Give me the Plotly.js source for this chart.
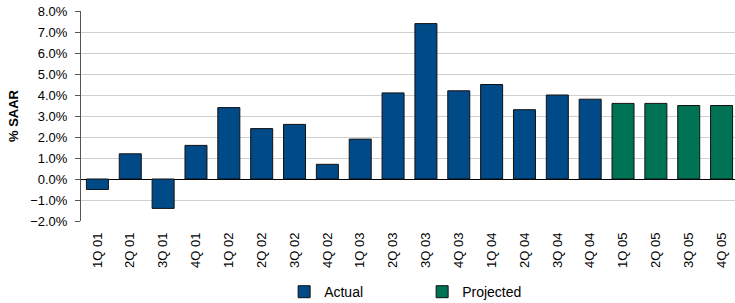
<!DOCTYPE html>
<html>
<head>
<meta charset="utf-8">
<script src="https://cdn.plot.ly/plotly-3.0.1.min.js"></script>
<style>
html,body{margin:0;padding:0;overflow:hidden;background:#fff;}
#chart{width:738px;height:303px;}
</style>
</head>
<body>
<div id="chart"></div>
<script>
const quarters = ["1Q 01","2Q 01","3Q 01","4Q 01","1Q 02","2Q 02","3Q 02","4Q 02","1Q 03","2Q 03","3Q 03","4Q 03","1Q 04","2Q 04","3Q 04","4Q 04","1Q 05","2Q 05","3Q 05","4Q 05"];
const actualQuarters = quarters.slice(0,16);
const actualValues = [-0.5,1.2,-1.4,1.6,3.4,2.4,2.6,0.7,1.9,4.1,7.4,4.2,4.5,3.3,4.0,3.8];
const projectedQuarters = quarters.slice(16);
const projectedValues = [3.6,3.6,3.5,3.5];
const boundaryTicks = quarters.slice(0,-1).map((q,i)=>i+0.5);

const fontFam = '"Liberation Sans", Arial, sans-serif';

const traces = [
  {type:'bar', name:'Actual', x:actualQuarters, y:actualValues,
   marker:{color:'#004A87', line:{color:'#111', width:1}}, hoverinfo:'x+y'},
  {type:'bar', name:'Projected', x:projectedQuarters, y:projectedValues,
   marker:{color:'#007354', line:{color:'#111', width:1}}, hoverinfo:'x+y'}
];

const layout = {
  width:738, height:303,
  margin:{l:81, r:0, t:11, b:82, pad:0},
  paper_bgcolor:'#fff', plot_bgcolor:'#fff',
  font:{family:fontFam, color:'#000', size:13},
  barmode:'overlay', bargap:0.33,
  showlegend:true,
  legend:{orientation:'h', xref:'container', yref:'container', x:0.385, xanchor:'left', y:0.036, yanchor:'middle',
          font:{size:14, family:fontFam}, entrywidth:93, entrywidthmode:'pixels', itemwidth:30, tracegroupgap:0},
  xaxis:{type:'category', categoryorder:'array', categoryarray:quarters,
         range:[-0.5,19.5], tickangle:-90, ticks:'', showline:false, showgrid:false,
         tickfont:{size:13, family:fontFam}, ticklabelstandoff:8, fixedrange:true},
  xaxis2:{overlaying:'x', anchor:'free', position:0.2, range:[-0.5,19.5], showline:false,
          showgrid:false, zeroline:false, tickmode:'array', tickvals:boundaryTicks, showticklabels:false,
          ticks:'outside', ticklen:4, tickcolor:'#000', tickwidth:1},
  yaxis:{range:[-2,8], dtick:1, tick0:0, tickformat:'.1f', ticksuffix:'%',
         showline:true, linecolor:'#555', linewidth:1, ticks:'outside', ticklen:5, tickcolor:'#555',
         showgrid:true, gridcolor:'#cfcfcf', gridwidth:1,
         zeroline:true, zerolinecolor:'#000', zerolinewidth:1,
         tickfont:{size:13, family:fontFam}, ticklabelstandoff:5,
         title:{text:'<b>% SAAR</b>', font:{size:13, family:fontFam}, standoff:8}, automargin:false}
};

Plotly.newPlot('chart', traces, layout, {displayModeBar:false, staticPlot:true});
</script>
</body>
</html>
